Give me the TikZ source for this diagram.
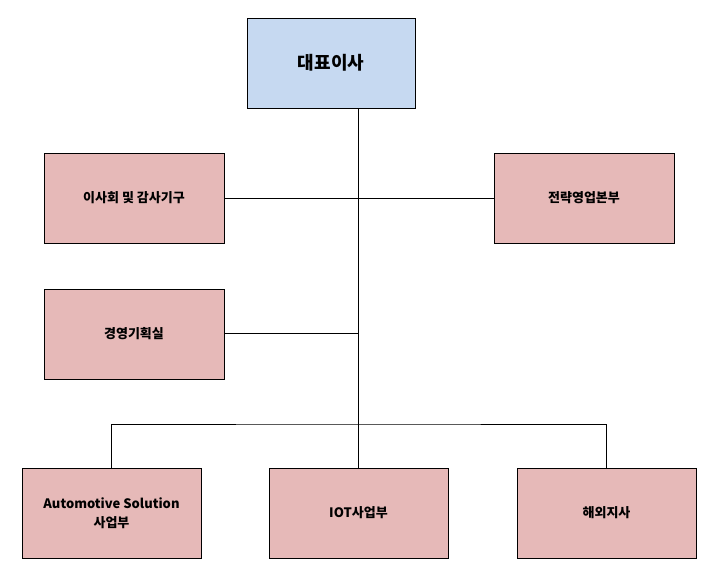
\documentclass[tikz,border=0pt]{standalone}
\usepackage{fontspec}
\setmainfont{Noto Sans CJK KR}
\definecolor{ceoblue}{HTML}{C6D9F1}
\definecolor{deptpink}{HTML}{E6B9B8}
\tikzset{
  box/.style={draw=black, fill=deptpink, minimum width=180pt, minimum height=90pt,
    inner sep=2pt, align=center, font=\fontsize{13}{19}\selectfont\bfseries},
  link/.style={draw=black, line width=0.8pt}
}
\begin{document}
\begin{tikzpicture}[x=1pt, y=-1pt]
\useasboundingbox (0,0) rectangle (718,577);

% top box
\node[box, fill=ceoblue, minimum width=168pt, font=\fontsize{18}{22}\selectfont\bfseries] (ceo) at (331,63) {대표이사};

% side boxes
\node[box] (board) at (134,198) {이사회 및 감사기구};
\node[box] (sales) at (584,198) {전략영업본부};
\node[box] (plan) at (134,334) {경영기획실};

% bottom boxes
\node[box, minimum width=179pt] (auto) at (111.5,513) {Automotive Solution\\사업부};
\node[box, minimum width=179pt] (iot) at (358.5,513) {IOT사업부};
\node[box, minimum width=179pt] (abroad) at (606.5,513) {해외지사};

% junctions
\coordinate (bus) at (358,424);
\coordinate (j1) at (358,198);
\coordinate (j2) at (358,333);

% connectors
\draw[link] (ceo.south -| bus) -- (bus);
\draw[link] (board.east) -- (sales.west);
\draw[link] (plan.east |- j2) -- (j2);
\draw[link] (auto.north) |- (bus) -| (abroad.north);
\draw[link] (bus) -- (bus |- iot.north);
\end{tikzpicture}
\end{document}
